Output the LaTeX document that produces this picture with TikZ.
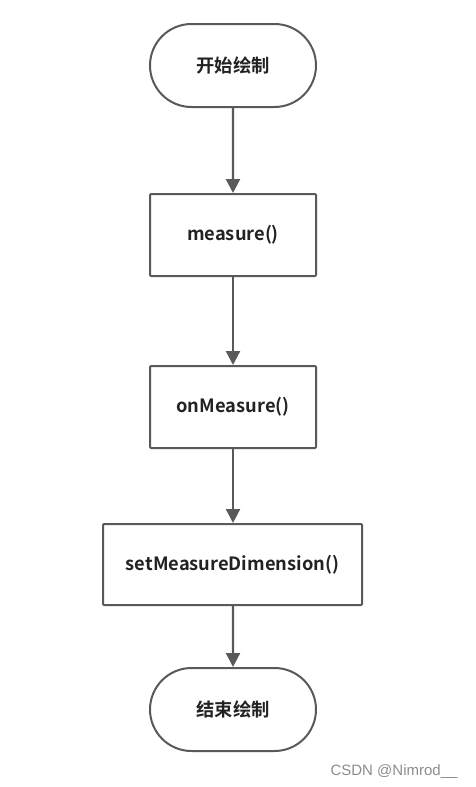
\documentclass[tikz,border=0pt]{standalone}
\usepackage{fontspec}
\setmainfont{Noto Sans CJK SC}[BoldFont={* Bold}]
\newfontfamily\wmfont{Liberation Sans}
\usetikzlibrary{arrows.meta,shapes.misc}
\definecolor{lineg}{HTML}{595959}
\definecolor{textg}{HTML}{222222}
\newcommand{\lowtxt}[2]{\raisebox{-#1}{#2}}
\tikzset{
  box/.style={draw=lineg, line width=2pt, fill=white, rectangle, rounded corners=1pt, inner sep=0pt, font=\bfseries\fontsize{18.3}{21}\selectfont, text=textg},
  term/.style={draw=lineg, line width=2pt, fill=white, rounded rectangle, inner sep=0pt, font=\bfseries\fontsize{18.3}{21}\selectfont, text=textg},
  conn/.style={draw=lineg, line width=2.2pt, -{Triangle[width=14pt,length=14pt]}},
}
\begin{document}
\begin{tikzpicture}[x=1pt,y=-1pt]
\useasboundingbox (0,0) rectangle (475,787);
\node[term, minimum width=166pt, minimum height=83pt] (start) at (233,65.5) {\lowtxt{1pt}{开始绘制}};
\node[box, minimum width=166pt, minimum height=82pt] (measure) at (233,235) {\lowtxt{3pt}{measure()}};
\node[box, minimum width=166pt, minimum height=82pt] (onmeasure) at (233,407) {\lowtxt{3pt}{onMeasure()}};
\node[box, minimum width=259pt, minimum height=81pt] (setdim) at (232.5,564.5) {\lowtxt{2.5pt}{setMeasureDimension()}};
\node[term, minimum width=166pt, minimum height=83pt] (end) at (233,709.5) {\lowtxt{2pt}{结束绘制}};
\draw[conn] (start) -- (measure);
\draw[conn] (measure) -- (onmeasure);
\draw[conn] (onmeasure) -- (setdim.north -| onmeasure.south);
\draw[conn] (setdim.south -| end.north) -- (end);
\node[anchor=east, font=\wmfont\fontsize{15}{17}\selectfont, text=black!45] (wm) at (461,772) {CSDN @Nimrod\_\_};
\end{tikzpicture}
\end{document}
